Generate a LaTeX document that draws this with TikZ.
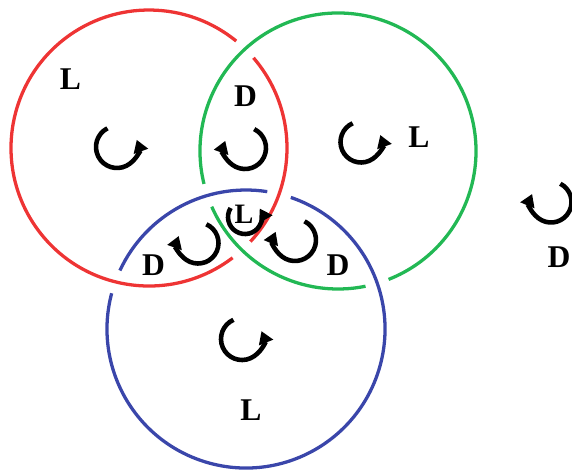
\documentclass[tikz,border=0pt]{standalone}
\usepackage{fontspec}
\setmainfont{Liberation Serif}
\usetikzlibrary{arrows.meta}
\definecolor{ringred}{RGB}{238,52,52}
\definecolor{ringgreen}{RGB}{34,184,84}
\definecolor{ringblue}{RGB}{58,70,170}
\begin{document}
\begin{tikzpicture}[x=0.03cm,y=-0.03cm,
  ring/.style={line width=2.8pt},
  rot/.style={line width=3.9pt,-{Triangle[length=10.5pt,width=12.5pt]}},
  lbl/.style={font=\fontsize{27}{32}\selectfont\bfseries,inner sep=0pt}]
\useasboundingbox (0,0) rectangle (572,470);
% centres of the three rings
\coordinate (cr) at (149,148);
\coordinate (cg) at (338,151);
\coordinate (cb) at (246,329);
% red ring (passes under green)
\draw[ring,ringred] (cr) ++(-40.8:138) arc[start angle=-40.8,end angle=42.7,radius=138];
\draw[ring,ringred] (cr) ++(52.7:138) arc[start angle=52.7,end angle=309.2,radius=138];
% green ring (passes under blue)
\draw[ring,ringgreen] (cg) ++(78.5:138) arc[start angle=78.5,end angle=156.2,radius=138];
\draw[ring,ringgreen] (cg) ++(166.2:138) arc[start angle=166.2,end angle=428.5,radius=138];
% blue ring (passes under red)
\draw[ring,ringblue] (cb) ++(-71.2:139) arc[start angle=-71.2,end angle=194.9,radius=139];
\draw[ring,ringblue] (cb) ++(204.9:139) arc[start angle=204.9,end angle=278.8,radius=139];
% rotation arrows
\coordinate (aR) at (117,147);
\coordinate (aRG) at (245,148);
\coordinate (aG) at (361,142);
\coordinate (aC) at (245,217);
\coordinate (aRB) at (198,243);
\coordinate (aGB) at (295,240);
\coordinate (aB) at (242,339);
\coordinate (aO) at (551,202);
\draw[rot] (aR) ++(243:21) arc[start angle=243,end angle=-20,radius=21];
\draw[rot] (aG) ++(246:20.5) arc[start angle=246,end angle=-20,radius=20.5];
\draw[rot] (aB) ++(246:21) arc[start angle=246,end angle=-22,radius=21];
\draw[rot] (aC) ++(212:17) arc[start angle=212,end angle=-30,radius=17];
\draw[rot] (aRG) ++(-64:21) arc[start angle=-64,end angle=200,radius=21];
\draw[rot] (aRB) ++(-66:20.5) arc[start angle=-66,end angle=200,radius=20.5];
\draw[rot] (aGB) ++(-63:21) arc[start angle=-63,end angle=203,radius=21];
\draw[rot] (aO) ++(-63:20.5) arc[start angle=-63,end angle=203,radius=20.5];
% labels
\node[lbl] (tR) at (70.5,79) {L};
\node[lbl] (tRG) at (245.5,96) {D};
\node[lbl] (tG) at (419,137.5) {L};
\node[lbl,font=\fontsize{24}{28}\selectfont\bfseries] (tC) at (244,214) {L};
\node[lbl] (tRB) at (153.5,265) {D};
\node[lbl] (tGB) at (338,265) {D};
\node[lbl] (tB) at (251,410.5) {L};
\node[lbl] (tO) at (559,257) {D};
\end{tikzpicture}
\end{document}
